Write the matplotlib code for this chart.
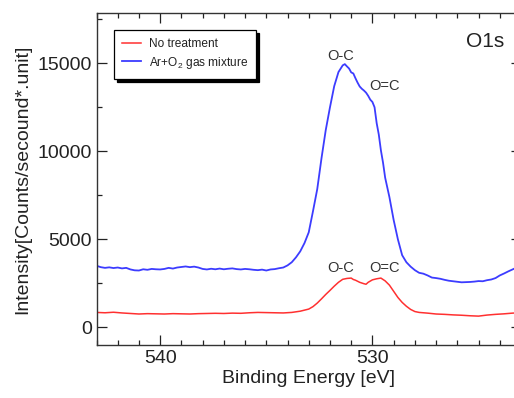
import matplotlib
matplotlib.use("Agg")
import matplotlib.pyplot as plt
from matplotlib.ticker import MultipleLocator

plt.rcParams['font.family'] = ['Liberation Sans', 'DejaVu Sans']
plt.rcParams['mathtext.fontset'] = 'custom'
plt.rcParams['mathtext.rm'] = 'Liberation Sans'
plt.rcParams['mathtext.it'] = 'Liberation Sans:italic'
plt.rcParams['mathtext.bf'] = 'Liberation Sans:bold'

# Ar+O2 gas mixture spectrum (binding energy in eV, intensity in counts)
blue_energy = [543.0, 542.8, 542.6, 542.4, 542.2, 542.0, 541.8, 541.6, 541.4, 541.2,
               541.0, 540.8, 540.6, 540.4, 540.2, 540.0, 539.8, 539.6, 539.4, 539.2,
               539.0, 538.8, 538.6, 538.4, 538.2, 538.0, 537.8, 537.6, 537.4, 537.2,
               537.0, 536.8, 536.6, 536.4, 536.2, 536.0, 535.8, 535.6, 535.4, 535.2,
               535.0, 534.8, 534.6, 534.4, 534.2, 534.0, 533.8, 533.6, 533.4, 533.2,
               533.0, 532.8, 532.6, 532.4, 532.2, 532.0, 531.8, 531.6, 531.4, 531.3,
               531.2, 531.1, 531.0, 530.9, 530.8, 530.7, 530.6, 530.5, 530.4, 530.3,
               530.2, 530.1, 530.0, 529.9, 529.8, 529.7, 529.6, 529.5, 529.4, 529.2,
               529.0, 528.8, 528.6, 528.4, 528.2, 528.0, 527.8, 527.6, 527.4, 527.2,
               527.0, 526.8, 526.6, 526.4, 526.2, 526.0, 525.8, 525.6, 525.4, 525.2,
               525.0, 524.8, 524.6, 524.4, 524.2, 524.0, 523.8, 523.6, 523.4, 523.2,
               523.0]
blue_counts = [3500, 3420, 3380, 3410, 3370, 3400, 3350, 3380, 3290, 3240,
               3230, 3300, 3270, 3320, 3300, 3290, 3320, 3380, 3340, 3400,
               3430, 3460, 3420, 3450, 3400, 3320, 3290, 3330, 3300, 3340,
               3300, 3330, 3350, 3310, 3290, 3320, 3300, 3270, 3250, 3280,
               3230, 3290, 3310, 3360, 3400, 3520, 3700, 3980, 4320, 4790,
               5400, 6600, 7850, 9600, 11200, 12500, 13700, 14500, 14880, 14950,
               14820, 14700, 14480, 14420, 14150, 13900, 13680, 13550, 13450, 13330,
               13150, 12930, 12800, 12500, 11600, 10950, 10050, 9350, 8500, 7400,
               6100, 5000, 4100, 3700, 3450, 3250, 3100, 3050, 2950, 2830,
               2800, 2760, 2700, 2650, 2620, 2590, 2560, 2570, 2580, 2600,
               2630, 2620, 2680, 2720, 2800, 2950, 3060, 3180, 3290, 3400,
               3480]

# Untreated sample spectrum
red_energy = [543.0, 542.6, 542.2, 541.8, 541.4, 541.0, 540.6, 540.2, 539.8, 539.4,
              539.0, 538.6, 538.2, 537.8, 537.4, 537.0, 536.6, 536.2, 535.8, 535.4,
              535.0, 534.6, 534.2, 533.8, 533.4, 533.0, 532.8, 532.6, 532.4, 532.2,
              532.0, 531.8, 531.6, 531.4, 531.2, 531.0, 530.9, 530.8, 530.6, 530.4,
              530.3, 530.2, 530.0, 529.8, 529.6, 529.4, 529.2, 529.0, 528.8, 528.6,
              528.4, 528.2, 528.0, 527.8, 527.4, 527.0, 526.6, 526.2, 525.8, 525.4,
              525.0, 524.6, 524.2, 523.8, 523.4, 523.0]
red_counts = [850, 830, 860, 820, 790, 760, 780, 770, 760, 780,
              770, 760, 780, 790, 800, 790, 810, 800, 830, 850,
              840, 830, 820, 850, 920, 1040, 1180, 1380, 1620, 1870,
              2100, 2340, 2560, 2730, 2780, 2800, 2720, 2680, 2560, 2480,
              2450, 2560, 2700, 2760, 2800, 2640, 2400, 2050, 1700, 1420,
              1200, 1020, 900, 850, 810, 760, 740, 710, 690, 660,
              640, 700, 740, 770, 810, 830]

series_labels = ["No treatment", "Ar+O$_2$ gas mixture"]

# Peak assignments: (label, energy, intensity)
blue_peaks = [("O-C", 531.5, 15400), ("O=C", 529.43, 13680)]
red_peaks = [("O-C", 531.5, 3390), ("O=C", 529.43, 3390)]

W, H = 514, 398
fig = plt.figure(figsize=(W / 100, H / 100), dpi=100)
ax = fig.add_axes([96.5 / W, 1 - 345 / H, (521 - 96.5) / W, (345 - 12.7) / H])

red_line, = ax.plot(red_energy, red_counts, color='#ff3030', lw=1.1)
blue_line, = ax.plot(blue_energy, blue_counts, color='#3c3cff', lw=1.3)

ax.set_xlim(543, 523)
ax.set_ylim(-1000, 17870)

ax.xaxis.set_major_locator(MultipleLocator(10))
ax.xaxis.set_minor_locator(MultipleLocator(1))
ax.yaxis.set_major_locator(MultipleLocator(5000))
ax.yaxis.set_minor_locator(MultipleLocator(2500))
ax.tick_params(which='both', direction='in', top=True, right=True,
               labelsize=14, width=0.9, colors='#222222')
ax.tick_params(which='major', length=7)
ax.tick_params(which='minor', length=3.5)
for s in ax.spines.values():
    s.set_linewidth(1.0)
    s.set_color('#333333')

ax.set_xlabel("Binding Energy [eV]", fontsize=14, color='#222222', labelpad=2)
ax.set_ylabel("Intensity[Counts/secound*.unit]", fontsize=14, color='#222222', labelpad=4)

for txt, x, y in blue_peaks + red_peaks:
    ax.text(x, y, txt, ha='center', va='center', fontsize=10.5, color='#333333')

ax.text(524.67, 16240, "O1s", ha='center', va='center', fontsize=15, color='#222222')

leg = ax.legend([red_line, blue_line], series_labels, loc='upper left',
                bbox_to_anchor=(114 / W, 1 - 30 / H), bbox_transform=fig.transFigure,
                borderaxespad=0, fontsize=8.6, frameon=True, fancybox=False,
                handlelength=1.6, handletextpad=0.6, borderpad=0.7,
                labelspacing=0.35, shadow={'color': 'black', 'alpha': 1.0})
leg.get_frame().set_edgecolor('black')
leg.get_frame().set_linewidth(0.9)
for t in leg.get_texts():
    t.set_color('#222222')

fig.savefig("out.png", dpi=100)
